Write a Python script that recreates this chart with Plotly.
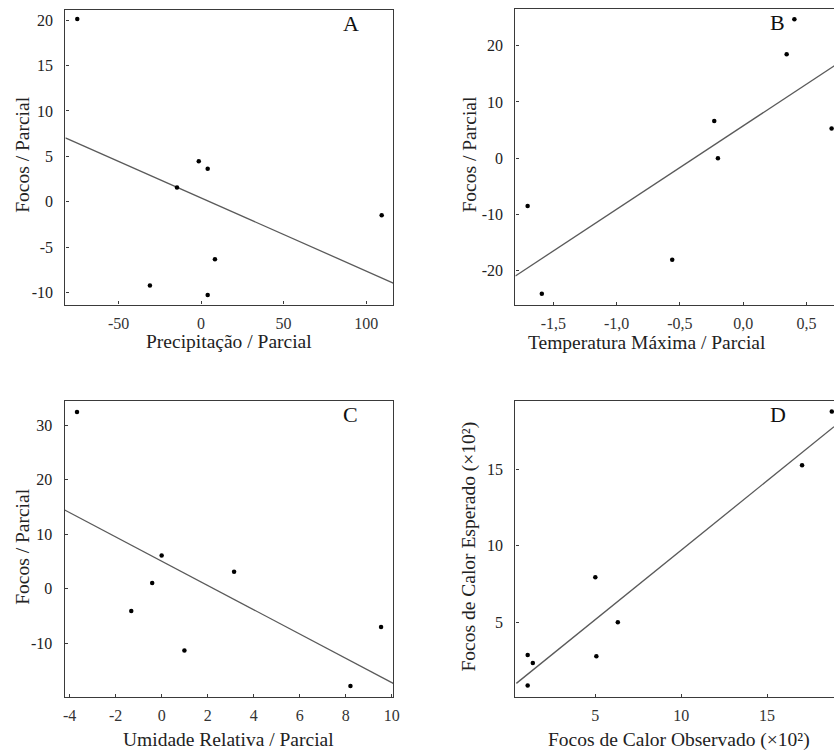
import plotly.graph_objects as go

# ---------------- data ----------------
precip_x = [-75, -1.4, 4.0, -14.6, 109.4, 8.4, -31, 4.0]
precip_y = [20.1, 4.47, 3.63, 1.57, -1.47, -6.3, -9.2, -10.25]
precip_fit_x = [-82.2, 116.4]
precip_fit_y = [7.04, -8.93]

tmax_x = [0.404, 0.343, -0.229, -0.200, 0.698, -1.703, -0.561, -1.591]
tmax_y = [24.7, 18.5, 6.6, 0.0, 5.3, -8.5, -18.05, -24.1]
tmax_fit_x = [-1.80, 0.72]
tmax_fit_y = [-20.94, 16.44]

umid_x = [-3.68, 0.0, -0.41, -1.32, 3.15, 0.99, 9.54, 8.21]
umid_y = [32.4, 6.1, 1.05, -4.1, 3.1, -11.3, -7.0, -17.8]
umid_fit_x = [-4.215, 10.07]
umid_fit_y = [14.43, -17.33]

obs_x = [18.77, 17.04, 5.0, 6.31, 5.06, 1.06, 1.36, 1.06]
esp_y = [18.77, 15.26, 7.94, 5.0, 2.78, 2.86, 2.35, 0.87]
obs_fit_x = [0.40, 18.9]
obs_fit_y = [1.01, 17.78]

# tick values and labels (hyphen minus, comma decimals as in the source)
precip_ticks = [-50, 0, 50, 100]
precip_ticktext = ["-50", "0", "50", "100"]
tmax_ticks = [-1.5, -1.0, -0.5, 0.0, 0.5]
tmax_ticktext = ["-1,5", "-1,0", "-0,5", "0,0", "0,5"]
umid_ticks = [-4, -2, 0, 2, 4, 6, 8, 10]
umid_ticktext = ["-4", "-2", "0", "2", "4", "6", "8", "10"]
obs_ticks = [5, 10, 15]
obs_ticktext = ["5", "10", "15"]

focosA_ticks = [-10, -5, 0, 5, 10, 15, 20]
focosA_ticktext = ["-10", "-5", "0", "5", "10", "15", "20"]
focosB_ticks = [-20, -10, 0, 10, 20]
focosB_ticktext = ["-20", "-10", "0", "10", "20"]
focosC_ticks = [-10, 0, 10, 20, 30]
focosC_ticktext = ["-10", "0", "10", "20", "30"]
esp_ticks = [5, 10, 15]
esp_ticktext = ["5", "10", "15"]

titles_x = ["Precipitação / Parcial", "Temperatura Máxima / Parcial",
            "Umidade Relativa / Parcial", "Focos de Calor Observado (×10²)"]
titles_y = ["Focos / Parcial", "Focos / Parcial",
            "Focos / Parcial", "Focos de Calor Esperado (×10²)"]
panel_letters = ["A", "B", "C", "D"]

# ---------------- layout ----------------
W, H = 840, 754
FONT = "Liberation Serif, Times New Roman, serif"
FRAME = "#3a3a3a"
FITC = "#5a5a5a"


def px(x):
    return x / W


def py(y):
    return 1 - y / H


fig = go.Figure()

panels = [
    dict(xs=precip_x, ys=precip_y, fx=precip_fit_x, fy=precip_fit_y),
    dict(xs=tmax_x, ys=tmax_y, fx=tmax_fit_x, fy=tmax_fit_y),
    dict(xs=umid_x, ys=umid_y, fx=umid_fit_x, fy=umid_fit_y),
    dict(xs=obs_x, ys=esp_y, fx=obs_fit_x, fy=obs_fit_y),
]

for i, p in enumerate(panels):
    ax = "" if i == 0 else str(i + 1)
    fig.add_trace(go.Scatter(x=p["fx"], y=p["fy"], mode="lines",
                             line=dict(color=FITC, width=1.3),
                             xaxis="x" + ax, yaxis="y" + ax, showlegend=False,
                             hoverinfo="skip"))
    fig.add_trace(go.Scatter(x=p["xs"], y=p["ys"], mode="markers",
                             marker=dict(color="black", size=4.5),
                             xaxis="x" + ax, yaxis="y" + ax, showlegend=False))

# pixel geometry of each plot area: (left, right, top, bottom)
geo = [
    (64, 395, 10, 304.5),
    (518.3, 840, 9.3, 305),
    (63.3, 395, 401, 696.7),
    (518.3, 840, 401, 696.7),
]
xranges = [[-82.2, 116.4], [-1.80, 0.717], [-4.215, 10.07], [0.343, 18.9]]
yranges = [[-11.29, 21.1], [-26.1, 26.47], [-19.78, 34.4], [0.14, 19.46]]
xtv = [precip_ticks, tmax_ticks, umid_ticks, obs_ticks]
xtt = [precip_ticktext, tmax_ticktext, umid_ticktext, obs_ticktext]
ytv = [focosA_ticks, focosB_ticks, focosC_ticks, esp_ticks]
ytt = [focosA_ticktext, focosB_ticktext, focosC_ticktext, esp_ticktext]

layout = dict(
    width=W, height=H,
    margin=dict(l=0, r=0, t=0, b=0),
    paper_bgcolor="white", plot_bgcolor="white",
    font=dict(family=FONT, color="#222"),
    showlegend=False,
)

annotations = []
for i in range(4):
    l, r, t, b = geo[i]
    right_open = r >= 840
    xa = dict(domain=[px(l), px(r)], range=xranges[i],
              anchor="y" if i == 0 else "y" + str(i + 1),
              showline=True, linecolor=FRAME, linewidth=1.3, mirror=True,
              showgrid=False, zeroline=False, ticks="inside", ticklen=3,
              tickcolor=FRAME, tickvals=xtv[i], ticktext=xtt[i],
              tickfont=dict(family=FONT, size=16, color="#333"),
              ticklabelstandoff=4)
    ya = dict(domain=[py(b), py(t)], range=yranges[i],
              anchor="x" if i == 0 else "x" + str(i + 1),
              showline=True, linecolor=FRAME, linewidth=1.3,
              mirror=(not right_open),
              showgrid=False, zeroline=False, ticks="inside", ticklen=3,
              tickcolor=FRAME, tickvals=ytv[i], ticktext=ytt[i],
              tickfont=dict(family=FONT, size=16, color="#222"),
              ticklabelstandoff=8)
    key = "" if i == 0 else str(i + 1)
    layout["xaxis" + key] = xa
    layout["yaxis" + key] = ya

    # axis titles
    if right_open:
        xcenter = l + 133 if i == 1 else l + 165
    else:
        xcenter = (l + r) / 2
    title_y = b + 37 if i < 2 else b + 43
    annotations.append(dict(text=titles_x[i], xref="paper", yref="paper",
                            x=px(xcenter), y=py(title_y), showarrow=False,
                            xanchor="center", yanchor="middle",
                            font=dict(family=FONT, size=19.5, color="#222")))
    ycenter = 155 if i < 2 else 547
    xt = 20 if i % 2 == 0 else 471
    annotations.append(dict(text=titles_y[i], xref="paper", yref="paper",
                            x=px(xt), y=py(ycenter), showarrow=False, textangle=-90,
                            xanchor="center", yanchor="middle",
                            font=dict(family=FONT, size=19.5, color="#222")))
    # panel letter
    lx = 352 if i % 2 == 0 else 783
    ly = t + 13
    annotations.append(dict(text=panel_letters[i], xref="paper", yref="paper",
                            x=px(lx), y=py(ly), showarrow=False,
                            xanchor="center", yanchor="middle",
                            font=dict(family=FONT, size=22, color="#111")))

layout["annotations"] = annotations
fig.update_layout(**layout)
fig.write_html(
    "out.html",
    config={"displayModeBar": False},
    post_script="document.body.style.margin='0';document.body.style.overflow='hidden';",
)
